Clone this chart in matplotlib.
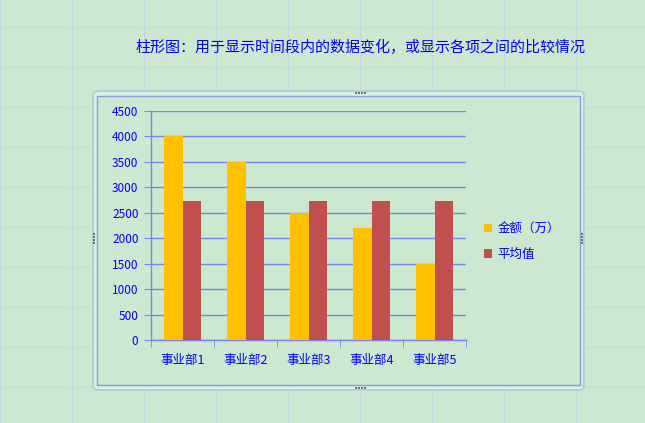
import matplotlib
matplotlib.use("Agg")
import matplotlib.pyplot as plt
import numpy as np
from matplotlib.patches import FancyBboxPatch, Rectangle
from matplotlib.lines import Line2D

plt.rcParams["font.family"] = ["Noto Sans CJK SC", "DejaVu Sans"]

# 数据
categories = ["事业部1", "事业部2", "事业部3", "事业部4", "事业部5"]
amount = [4000, 3500, 2500, 2200, 1500]
average = [2740, 2740, 2740, 2740, 2740]
series_names = ["金额（万）", "平均值"]
title = "柱形图：用于显示时间段内的数据变化，或显示各项之间的比较情况"

bg = "#CDE8D0"
blue = "#0000FF"
axis_c = "#8080F0"

W, H = 645, 423
fig = plt.figure(figsize=(6.45, 4.23), dpi=100, facecolor=bg)

# 表格网格线
for x in range(0, W, 72):
    fig.add_artist(Line2D([x / W, x / W], [0, 1], color="#C9D6DC", lw=0.8, zorder=-5))
for y in range(27, H, 40):
    fig.add_artist(Line2D([0, 1], [1 - y / H, 1 - y / H], color="#C9D6DC", lw=0.8, zorder=-5))

# 图表外框
fig.add_artist(FancyBboxPatch((93 / W, 1 - 390 / H), 491 / W, 299 / H,
                              boxstyle="round,pad=0,rounding_size=0.01",
                              facecolor="#D6F0EC", edgecolor="#B5C8CC", lw=1.2, zorder=-4))
fig.add_artist(Rectangle((97 / W, 1 - 385 / H), 483 / W, 289 / H,
                         facecolor=bg, edgecolor="#8C9CD6", lw=1.0, zorder=-3))
# 拖动手柄
for hx, hy in [(360, 93), (360, 388)]:
    for k in range(4):
        fig.add_artist(Rectangle(((hx - 5 + k * 3) / W, 1 - (hy + 1) / H), 2 / W, 2 / H,
                                 facecolor="#707070", edgecolor="none", zorder=-2))
for hx, hy in [(94, 238), (582, 238)]:
    for k in range(4):
        fig.add_artist(Rectangle(((hx - 1) / W, 1 - (hy - 5 + k * 3 + 2) / H), 2 / W, 2 / H,
                                 facecolor="#707070", edgecolor="none", zorder=-2))

fig.text(361 / W, 1 - 47 / H, title, color=blue, fontsize=10.8, ha="center", va="center")

ax = fig.add_axes([151 / W, 1 - 340 / H, 315 / W, 229 / H])
ax.set_facecolor("none")

x = np.arange(len(categories))
w = 0.29
ax.bar(x - w / 2, amount, width=w, color="#FFC000", label=series_names[0], zorder=3)
ax.bar(x + w / 2, average, width=w, color="#C0504D", label=series_names[1], zorder=3)

ax.set_xlim(-0.5, len(categories) - 0.5)
ax.set_ylim(0, 4500)
ax.set_yticks(np.arange(0, 4501, 500))
ax.yaxis.grid(True, color=axis_c, lw=1.0, zorder=1)

ax.set_xticks(x)
ax.set_xticklabels(categories)
ax.set_xticks(np.arange(-0.5, len(categories)), minor=True)
ax.tick_params(axis="x", which="major", length=0, pad=10, labelsize=9, labelcolor=blue)
ax.tick_params(axis="x", which="minor", length=5, color=axis_c, direction="out")
ax.tick_params(axis="y", length=5, color=axis_c, direction="out", labelsize=8.5,
               labelcolor=blue, pad=4)

for s in ["top", "right"]:
    ax.spines[s].set_visible(False)
for s in ["left", "bottom"]:
    ax.spines[s].set_color(axis_c)
    ax.spines[s].set_linewidth(1.0)

leg = ax.legend(loc="center left", bbox_to_anchor=(1.02, 0.43), frameon=False,
                fontsize=9, handlelength=0.7, handleheight=0.7, handletextpad=0.4,
                labelspacing=1.0)
for t in leg.get_texts():
    t.set_color(blue)

fig.savefig("out.png", dpi=100, facecolor=bg)
